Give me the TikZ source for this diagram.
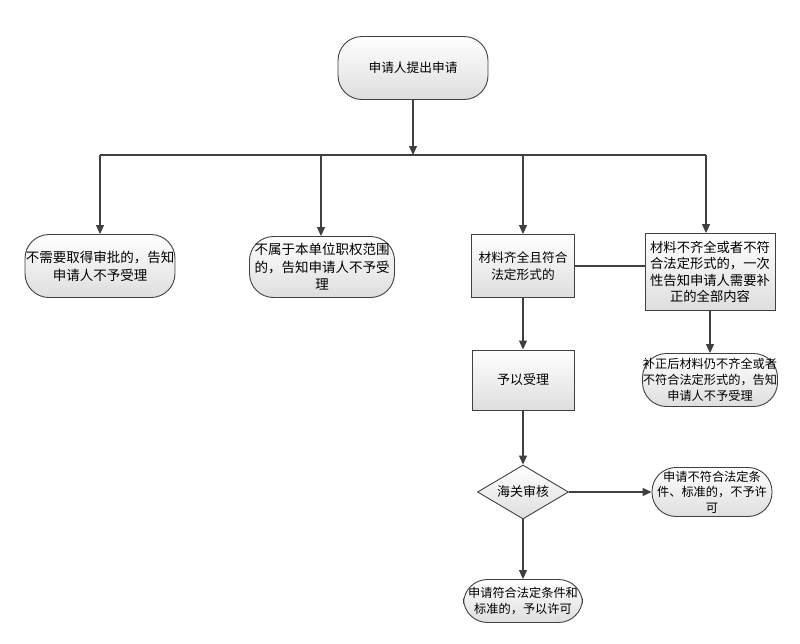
\documentclass[tikz,border=0pt]{standalone}
\usepackage{fontspec}
\setmainfont{Noto Sans CJK SC}
\usetikzlibrary{shapes.geometric,arrows.meta}
\definecolor{ln}{HTML}{404040}
\tikzset{
  base/.style={draw=ln, line width=0.9pt, top color=white, bottom color=black!13, align=center, font=\fontsize{12.7}{17}\selectfont, inner sep=1pt},
  stad/.style={base, rectangle, rounded corners=24pt},
  boxn/.style={base, rectangle},
  dec/.style={base, diamond, aspect=1.7, inner sep=0pt},
  arr/.style={draw=ln, line width=1.1pt, -{Triangle[length=9pt,width=8pt]}},
  ln/.style={draw=ln, line width=1.1pt}
}
\begin{document}
\begin{tikzpicture}[x=1pt,y=-1pt]
\useasboundingbox (0,0) rectangle (800,643);
\node[stad, minimum width=150pt, minimum height=63pt] (top) at (413,68) {申请人提出申请};
\node[stad, minimum width=150pt, minimum height=63pt, font=\fontsize{13.5}{18}\selectfont, inner sep=0pt] (n1) at (100,266) {不需要取得审批的，告知\\申请人不予受理};
\node[stad, minimum width=145pt, minimum height=61pt, font=\fontsize{13.5}{17.5}\selectfont, inner sep=0pt] (n2) at (322,267) {不属于本单位职权范围\\的，告知申请人不予受\\理};
\node[boxn, minimum width=103pt, minimum height=63pt] (n3) at (523,266) {材料齐全且符合\\法定形式的};
\node[boxn, minimum width=130pt, minimum height=77pt, font=\fontsize{13.3}{16.5}\selectfont] (n4) at (710,272) {材料不齐全或者不符\\合法定形式的，一次\\性告知申请人需要补\\正的全部内容};
\node[stad, minimum width=135pt, minimum height=53pt, font=\fontsize{12.2}{16}\selectfont, inner sep=0pt] (n5) at (710,380) {补正后材料仍不齐全或者\\不符合法定形式的，告知\\申请人不予受理};
\node[boxn, minimum width=102pt, minimum height=60pt, font=\fontsize{13}{17}\selectfont] (n6) at (523,380) {予以受理};
\node[dec, minimum width=91pt, minimum height=54pt, font=\fontsize{13}{17}\selectfont] (d) at (523,492) {海关审核};
\node[stad, minimum width=120pt, minimum height=49pt, font=\fontsize{12.2}{15.5}\selectfont] (n7) at (712,492) {申请不符合法定条\\件、标准的，不予许\\可};
\node[stad, minimum width=119pt, minimum height=43pt, font=\fontsize{12.2}{16.5}\selectfont] (n8) at (523,601) {申请符合法定条件和\\标准的，予以许可};
\coordinate (b) at (413,155);
\coordinate (h1) at (100,155);
\coordinate (h2) at (321,155);
\coordinate (h3) at (523,155);
\coordinate (h4) at (706,155);
\draw[arr] (top) -- (b);
\draw[ln] (h1) -- (h4);
\draw[arr] (h1) -- (h1 |- n1.north);
\draw[arr] (h2) -- (h2 |- n2.north);
\draw[arr] (h3) -- (n3);
\draw[arr] (h4) -- (h4 |- n4.north);
\draw[ln] (n3.east) -- (n4.west |- n3.east);
\draw[arr] (n4) -- (n5);
\draw[arr] (n3) -- (n6);
\draw[arr] (n6) -- (d);
\draw[arr] (d) -- (n7);
\draw[arr] (d) -- (n8);
\end{tikzpicture}
\end{document}
